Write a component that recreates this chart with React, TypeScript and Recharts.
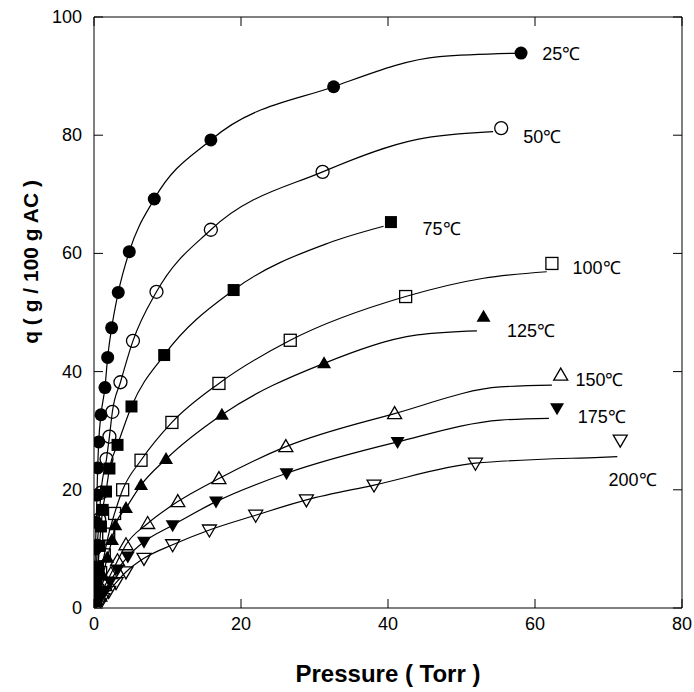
import React from "react";
import { ComposedChart, Line, Scatter, XAxis, YAxis } from "recharts";

// measured isotherm points [pressure Torr, q g/100g AC]
const q25 = [
  [0.05, 2.5], [0.12, 6], [0.2, 10], [0.3, 14.5], [0.4, 19.1], [0.5, 23.7],
  [0.64, 28.1], [0.95, 32.7], [1.49, 37.3], [1.86, 42.4], [2.4, 47.4],
  [3.3, 53.4], [4.8, 60.3], [8.2, 69.2], [15.9, 79.2], [32.6, 88.2], [58.1, 93.9],
];
const q50 = [
  [0.15, 3], [0.3, 6.5], [0.45, 10.5], [0.7, 15], [0.95, 19.5], [1.7, 25.2],
  [2.1, 29.0], [2.5, 33.2], [3.6, 38.2], [5.3, 45.2], [8.5, 53.5],
  [15.9, 64.0], [31.1, 73.8], [55.4, 81.2],
];
const q75 = [
  [0.2, 1.5], [0.35, 4], [0.55, 7], [0.75, 10.5], [0.95, 13.8], [1.18, 16.6],
  [1.63, 19.7], [2.1, 23.6], [3.2, 27.6], [5.1, 34.1], [9.55, 42.8],
  [19.0, 53.8], [40.4, 65.3],
];
const q100 = [
  [0.5, 3], [0.9, 6], [1.4, 9], [2.0, 12.5], [2.8, 16], [3.9, 20.0],
  [6.4, 25.0], [10.6, 31.4], [17.0, 38.0], [26.7, 45.3], [42.4, 52.7], [62.3, 58.3],
];
const q125 = [
  [0.3, 1], [0.7, 3], [1.2, 5.5], [1.8, 8.5], [2.45, 11.5], [2.9, 14.0],
  [4.35, 16.9], [6.4, 20.8], [9.8, 25.2], [17.4, 32.7], [31.3, 41.4], [53.0, 49.3],
];
const q150 = [
  [0.8, 2], [1.5, 3.8], [2.3, 5.8], [3.2, 8], [4.35, 10.7], [7.3, 14.3],
  [11.4, 18.0], [17.0, 21.9], [26.1, 27.3], [40.9, 32.9], [63.5, 39.4],
];
const q175 = [
  [0.7, 1.3], [1.4, 2.8], [2.2, 4.5], [3.2, 6.5], [4.6, 8.7], [6.8, 11.2],
  [10.7, 14.0], [16.6, 18.0], [26.2, 22.8], [41.3, 28.1], [63.0, 33.8],
];
const q200 = [
  [0.6, 0.7], [1.2, 1.6], [2.0, 2.8], [3.0, 4.3], [4.35, 6.1], [6.8, 8.4],
  [10.7, 10.7], [15.7, 13.2], [22.0, 15.7], [28.9, 18.3], [38.1, 20.8],
  [51.9, 24.5], [71.6, 28.4],
];

// where each fitted curve bends over and ends
const tail25 = [[47, 93.3], [58.1, 93.9]];
const tail50 = [[44, 79.3], [54.3, 80.6]];
const tail75 = [[32, 61.8], [39.4, 64.6]];
const tail100 = [[53, 55.8], [61.6, 56.9]];
const tail125 = [[44, 46.2], [52.1, 46.9]];
const tail150 = [[55.3, 37.4], [62.3, 37.7]];
const tail175 = [[55.3, 31.8], [61.9, 32.1]];
const tail200 = [[68.9, 25.5], [71.2, 25.6]];

const temps = ["25℃", "50℃", "75℃", "100℃", "125℃", "150℃", "175℃", "200℃"];
// label anchor (left edge, middle) in data units
const labelX = [61.0, 58.4, 44.7, 65.1, 56.2, 65.5, 65.8, 70.0];
const labelY = [93.7, 79.7, 64.1, 57.5, 46.9, 38.6, 32.4, 21.7];

const xTicks = [0, 20, 40, 60, 80];
const yTicks = [0, 20, 40, 60, 80, 100];

const font = "'Liberation Sans', Arial, Helvetica, sans-serif";

const toPts = (arr: number[][]) => arr.map(([x, y]) => ({ x, y }));
const toCurve = (pts: number[][], tail: number[][]) =>
  toPts([[0, 0], ...pts.slice(0, -1), ...tail]);

const series = [
  { pts: q25, tail: tail25, kind: "fcircle" },
  { pts: q50, tail: tail50, kind: "ocircle" },
  { pts: q75, tail: tail75, kind: "fsquare" },
  { pts: q100, tail: tail100, kind: "osquare" },
  { pts: q125, tail: tail125, kind: "ftri" },
  { pts: q150, tail: tail150, kind: "otri" },
  { pts: q175, tail: tail175, kind: "fdown" },
  { pts: q200, tail: tail200, kind: "odown" },
];

const labels = temps.map((t, i) => ({ x: labelX[i], y: labelY[i], text: t }));

const Marker = ({ cx, cy, kind }: { cx: number; cy: number; kind: string }) => {
  const filled = kind.startsWith("f");
  const fill = filled ? "#000" : "none";
  const sw = filled ? 0 : 1.3;
  if (kind.endsWith("circle"))
    return <circle cx={cx} cy={cy} r={6.5} fill={fill} stroke="#000" strokeWidth={sw} />;
  if (kind.endsWith("square"))
    return <rect x={cx - 6} y={cy - 6} width={12} height={12} fill={fill} stroke="#000" strokeWidth={sw} />;
  if (kind.endsWith("tri"))
    return (
      <polygon
        points={`${cx},${cy - 7} ${cx + 7},${cy + 5} ${cx - 7},${cy + 5}`}
        fill={fill}
        stroke="#000"
        strokeWidth={sw}
      />
    );
  return (
    <polygon
      points={`${cx - 7},${cy - 5} ${cx + 7},${cy - 5} ${cx},${cy + 7}`}
      fill={fill}
      stroke="#000"
      strokeWidth={sw}
    />
  );
};

const XTick = (props: any) => {
  const { x, y, payload } = props;
  return (
    <g>
      <line x1={x} y1={y} x2={x} y2={y - 9} stroke="#000" />
      <text x={x} y={y + 22} textAnchor="middle" fontSize={18} fontFamily={font} fill="#000">
        {payload.value}
      </text>
    </g>
  );
};

const YTick = (props: any) => {
  const { x, y, payload } = props;
  return (
    <g>
      <line x1={x} y1={y} x2={x + 9} y2={y} stroke="#000" />
      <text x={x - 12} y={y + 6} textAnchor="end" fontSize={18} fontFamily={font} fill="#000">
        {payload.value}
      </text>
    </g>
  );
};

const TopTick = (props: any) => (
  <line x1={props.x} y1={props.y} x2={props.x} y2={props.y + 9} stroke="#000" />
);
const RightTick = (props: any) => (
  <line x1={props.x} y1={props.y} x2={props.x - 9} y2={props.y} stroke="#000" />
);

const XTitle = () => (
  <text x={388} y={682} textAnchor="middle" fontSize={24} fontWeight="bold" fontFamily={font} fill="#000">
    Pressure ( Torr )
  </text>
);

const YTitle = () => (
  <text
    x={30}
    y={262}
    transform="rotate(-90, 30, 262)"
    textAnchor="middle"
    dominantBaseline="central"
    fontSize={21}
    fontWeight="bold"
    fontFamily={font}
    fill="#000"
  >
    q ( g / 100 g AC )
  </text>
);

const TempLabel = (props: any) => (
  <text x={props.cx} y={props.cy + 6} fontSize={18} fontFamily={font} fill="#000">
    {props.payload.text}
  </text>
);

export default function App() {
  return (
    <div style={{ position: "absolute", left: 0, top: 0, width: 694, height: 692, background: "#fff" }}>
      <ComposedChart
        width={694}
        height={692}
        margin={{ top: 16, right: 11, bottom: 0, left: 0 }}
        style={{ overflow: "visible" }}
      >
        <XAxis
          type="number"
          dataKey="x"
          domain={[0, 80]}
          ticks={xTicks}
          interval={0}
          allowDataOverflow
          height={84}
          tickSize={0}
          tickMargin={0}
          tick={<XTick />}
          axisLine={{ stroke: "#000" }}
          label={<XTitle />}
        />
        <XAxis
          xAxisId="top"
          orientation="top"
          type="number"
          dataKey="x"
          domain={[0, 80]}
          ticks={xTicks}
          interval={0}
          allowDataOverflow
          height={1}
          tickSize={0}
          tickMargin={0}
          tick={<TopTick />}
          axisLine={{ stroke: "#000" }}
        />
        <YAxis
          type="number"
          domain={[0, 100]}
          ticks={yTicks}
          interval={0}
          allowDataOverflow
          width={94}
          tickSize={0}
          tickMargin={0}
          tick={<YTick />}
          axisLine={{ stroke: "#000" }}
          label={<YTitle />}
        />
        <YAxis
          yAxisId="right"
          orientation="right"
          type="number"
          domain={[0, 100]}
          ticks={yTicks}
          interval={0}
          allowDataOverflow
          width={1}
          tickSize={0}
          tickMargin={0}
          tick={<RightTick />}
          axisLine={{ stroke: "#000" }}
        />
        {series.map((s, i) => (
          <Line
            key={`c${i}`}
            data={toCurve(s.pts, s.tail)}
            dataKey="y"
            type="monotone"
            stroke="#000"
            strokeWidth={1.2}
            dot={false}
            activeDot={false}
            isAnimationActive={false}
          />
        ))}
        {series.map((s, i) => (
          <Scatter
            key={`m${i}`}
            data={toPts(s.pts)}
            dataKey="y"
            isAnimationActive={false}
            shape={(p: any) => <Marker cx={p.cx} cy={p.cy} kind={s.kind} />}
          />
        ))}
        <Scatter data={labels} dataKey="y" isAnimationActive={false} shape={<TempLabel />} />
      </ComposedChart>
    </div>
  );
}
